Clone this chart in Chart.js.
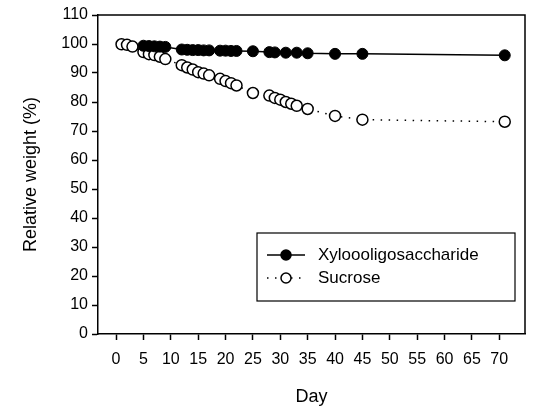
<!DOCTYPE html>
<html>
<head>
<meta charset="utf-8">
<script src="https://cdn.jsdelivr.net/npm/chart.js@4"></script>
<style>
  html, body { margin: 0; padding: 0; background: #fff; }
  #wrap { width: 553px; height: 412px; }
</style>
</head>
<body>
<div id="wrap"><canvas id="grafico"></canvas></div>
<script>
// datos
var diasXylo = [5, 6, 7, 8, 9, 12, 13, 14, 15, 16, 17, 19, 20, 21, 22, 25, 28, 29, 31, 33, 35, 40, 45, 71];
var xylo = [99.4, 99.3, 99.2, 99.1, 99.0, 98.1, 98.0, 97.9, 97.9, 97.8, 97.8, 97.7, 97.7, 97.6, 97.6, 97.5, 97.2, 97.1, 97.0, 97.0, 96.8, 96.6, 96.6, 96.1];

var diasSacarosa = [1, 2, 3, 5, 6, 7, 8, 9, 12, 13, 14, 15, 16, 17, 19, 20, 21, 22, 25, 28, 29, 30, 31, 32, 33, 35, 40, 45, 71];
var sacarosa = [99.9, 99.7, 99.1, 97.2, 96.5, 96.2, 95.6, 94.8, 92.7, 91.9, 91.2, 90.3, 89.8, 89.2, 88.0, 87.2, 86.5, 85.7, 83.1, 82.2, 81.4, 80.8, 80.0, 79.4, 78.7, 77.6, 75.2, 73.9, 73.2];

var ticksX = [0, 5, 10, 15, 20, 25, 30, 35, 40, 45, 50, 55, 60, 65, 70];
var ticksY = [0, 10, 20, 30, 40, 50, 60, 70, 80, 90, 100, 110];

var nombres = ['Xyloooligosaccharide', 'Sucrose'];

function puntos(xs, ys) {
    return xs.map(function(x, i) { return { x: x, y: ys[i] }; });
}

Chart.defaults.font.family = '"Liberation Sans", Arial, sans-serif';
Chart.defaults.color = '#000';

// marco superior/derecho y leyenda dibujada a mano
var marco = {
    id: 'marco',
    afterDraw: function(chart) {
        var ctx = chart.ctx, a = chart.chartArea;
        ctx.save();
        ctx.strokeStyle = '#000';
        ctx.lineWidth = 1.5;
        ctx.beginPath();
        ctx.moveTo(a.left, a.top);
        ctx.lineTo(a.right, a.top);
        ctx.lineTo(a.right, a.bottom);
        ctx.stroke();

        // leyenda
        var x0 = 257, y0 = 233, w = 258, h = 68;
        ctx.lineWidth = 1.2;
        ctx.strokeRect(x0, y0, w, h);
        ctx.font = '17px "Liberation Sans", Arial, sans-serif';
        ctx.textBaseline = 'middle';
        chart.data.datasets.forEach(function(ds, i) {
            var yy = y0 + 22 + i * 23;
            ctx.beginPath();
            ctx.setLineDash(ds.borderDash || []);
            ctx.strokeStyle = ds.borderColor;
            ctx.lineWidth = ds.borderWidth;
            ctx.moveTo(x0 + 10, yy);
            ctx.lineTo(x0 + 48, yy);
            ctx.stroke();
            ctx.setLineDash([]);
            ctx.beginPath();
            ctx.arc(x0 + 29, yy, ds.pointRadius - 0.5, 0, Math.PI * 2);
            ctx.fillStyle = ds.pointBackgroundColor;
            ctx.fill();
            ctx.lineWidth = 1.5;
            ctx.strokeStyle = '#000';
            ctx.stroke();
            ctx.fillStyle = '#000';
            ctx.fillText(ds.label, x0 + 61, yy);
        });
        ctx.restore();
    }
};

var ctx = document.getElementById('grafico').getContext('2d');
var grafico = new Chart(ctx, {
    type: 'line',
    data: {
        datasets: [
            {
                label: nombres[0],
                data: puntos(diasXylo, xylo),
                borderColor: '#000',
                borderWidth: 1.5,
                pointRadius: 5.5,
                pointBackgroundColor: '#000',
                pointBorderColor: '#000',
                pointBorderWidth: 1,
                tension: 0
            },
            {
                label: nombres[1],
                data: puntos(diasSacarosa, sacarosa),
                borderColor: '#000',
                borderWidth: 1.5,
                borderDash: [1.5, 6.5],
                pointRadius: 5.5,
                pointBackgroundColor: '#fff',
                pointBorderColor: '#000',
                pointBorderWidth: 1.5,
                tension: 0
            }
        ]
    },
    options: {
        responsive: true,
        maintainAspectRatio: false,
        animation: false,
        layout: { padding: { left: 0, top: 15, right: 28, bottom: 0 } },
        plugins: {
            legend: { display: false },
            tooltip: { enabled: false }
        },
        scales: {
            x: {
                type: 'linear',
                min: -3.3,
                max: 74.7,
                afterBuildTicks: function(scale) {
                    scale.ticks = ticksX.map(function(v) { return { value: v }; });
                },
                afterFit: function(scale) { scale.height = 78; },
                grid: { drawOnChartArea: false, drawTicks: true, tickLength: 6, tickColor: '#000', tickWidth: 1.5 },
                border: { display: true, color: '#000', width: 1.5 },
                ticks: { font: { size: 16 }, padding: 10, maxRotation: 0, autoSkip: false },
                title: { display: true, text: 'Day', font: { size: 18 }, padding: { top: 12 } }
            },
            y: {
                min: 0,
                max: 110,
                afterBuildTicks: function(scale) {
                    scale.ticks = ticksY.map(function(v) { return { value: v }; });
                },
                afterFit: function(scale) { scale.width = 98; },
                grid: { drawOnChartArea: false, drawTicks: true, tickLength: 6, tickColor: '#000', tickWidth: 1.5 },
                border: { display: true, color: '#000', width: 1.5 },
                ticks: { font: { size: 16 }, padding: 4 },
                title: { display: true, text: 'Relative weight (%)', font: { size: 18 }, padding: { top: 20, bottom: 0 } }
            }
        }
    },
    plugins: [marco]
});
</script>
</body>
</html>
